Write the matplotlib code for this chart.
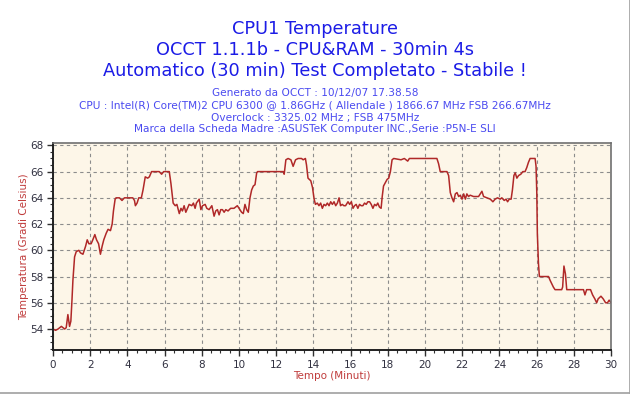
import matplotlib.pyplot as plt
from matplotlib.lines import Line2D
from matplotlib.ticker import MultipleLocator

# Temperature log (minutes, degrees C)
minutes = [
    0.00, 0.14, 0.27, 0.45, 0.63, 0.71, 0.80, 0.89, 0.96, 1.02, 1.07, 1.16,
    1.25, 1.39, 1.48, 1.61, 1.75, 1.84, 1.93, 2.05, 2.14, 2.25, 2.34, 2.45,
    2.55, 2.64, 2.73, 2.86, 2.96, 3.09, 3.18, 3.25, 3.34, 3.39, 3.57, 3.71,
    3.84, 4.29, 4.38, 4.43, 4.52, 4.61, 4.75, 4.84, 4.96, 5.09, 5.18, 5.30,
    5.71, 5.84, 5.95, 6.25, 6.34, 6.46, 6.57, 6.66, 6.79, 6.88, 6.96, 7.05,
    7.14, 7.23, 7.32, 7.46, 7.55, 7.64, 7.71, 7.86, 7.95, 8.04, 8.18, 8.27,
    8.39, 8.54, 8.66, 8.75, 8.84, 8.93, 9.02, 9.11, 9.20, 9.29, 9.41, 9.55,
    9.73, 9.91, 10.00, 10.14, 10.23, 10.32, 10.41, 10.50, 10.59, 10.68, 10.77,
    10.86, 10.95, 11.00, 12.38, 12.43, 12.52, 12.64, 12.79, 12.91, 13.04,
    13.18, 13.36, 13.45, 13.57, 13.63, 13.71, 13.86, 13.95, 14.04, 14.11,
    14.21, 14.30, 14.39, 14.48, 14.57, 14.66, 14.75, 14.84, 14.93, 15.02,
    15.11, 15.20, 15.29, 15.38, 15.46, 15.55, 15.64, 15.73, 15.86, 15.95,
    16.04, 16.13, 16.21, 16.30, 16.39, 16.48, 16.57, 16.66, 16.75, 16.84,
    16.93, 17.02, 17.11, 17.20, 17.29, 17.38, 17.46, 17.55, 17.64, 17.70,
    17.77, 17.88, 17.96, 18.05, 18.14, 18.23, 18.32, 18.71, 18.89, 18.98,
    19.07, 19.16, 20.64, 20.73, 20.82, 21.18, 21.27, 21.36, 21.45, 21.54,
    21.63, 21.72, 21.81, 21.90, 21.99, 22.08, 22.17, 22.25, 22.34, 22.43,
    22.61, 22.75, 22.88, 22.97, 23.06, 23.15, 23.33, 23.51, 23.65, 23.77,
    23.90, 24.04, 24.13, 24.26, 24.36, 24.44, 24.53, 24.63, 24.70, 24.78,
    24.85, 24.94, 25.03, 25.15, 25.26, 25.38, 25.47, 25.56, 25.65, 25.92,
    25.97, 26.01, 26.04, 26.10, 26.15, 26.64, 26.73, 26.90, 26.99, 27.35,
    27.40, 27.47, 27.55, 27.62, 28.52, 28.60, 28.69, 28.90, 29.01, 29.13,
    29.23, 29.31, 29.46, 29.58, 29.71, 29.81, 29.90, 30.00,
]
temps = [
    54.0, 53.9, 54.0, 54.2, 54.0, 54.1, 55.1, 54.2, 54.6, 56.2, 57.7, 59.5,
    59.9, 60.0, 59.8, 59.7, 60.3, 60.8, 60.5, 60.5, 60.8, 61.2, 60.8, 60.5,
    59.7, 60.3, 60.8, 61.3, 61.6, 61.5, 62.0, 63.0, 63.9, 64.0, 64.0, 63.8,
    64.0, 64.0, 63.8, 63.4, 63.6, 64.0, 64.0, 64.6, 65.6, 65.5, 65.6, 66.0,
    66.0, 65.8, 66.0, 66.0, 65.1, 63.6, 63.4, 63.5, 62.8, 63.2, 63.0, 63.4,
    62.9, 63.2, 63.5, 63.4, 63.6, 63.2, 63.6, 63.9, 63.1, 63.4, 63.5, 63.2,
    63.1, 63.4, 62.6, 63.0, 63.1, 62.7, 63.1, 63.1, 62.9, 63.1, 63.0, 63.2,
    63.2, 63.4, 63.2, 62.9, 62.8, 63.5, 63.1, 62.9, 64.0, 64.6, 64.9,
    65.0, 65.9, 66.0, 66.0, 65.8, 66.9, 67.0, 66.9, 66.4, 66.9,
    67.0, 67.0, 66.9, 67.0, 66.5, 65.5, 65.3, 64.8, 63.9, 63.5,
    63.6, 63.4, 63.6, 63.2, 63.5, 63.4, 63.6, 63.4, 63.7, 63.5,
    63.7, 63.4, 63.6, 64.0, 63.4, 63.5, 63.4, 63.4, 63.7, 63.5,
    63.7, 63.2, 63.4, 63.5, 63.2, 63.5, 63.4, 63.4, 63.6, 63.5,
    63.7, 63.7, 63.5, 63.2, 63.5, 63.4, 63.6, 63.3, 63.2, 64.1,
    64.9, 65.2, 65.4, 65.5, 66.0, 66.9, 67.0, 66.9, 67.0, 66.9,
    66.8, 67.0, 67.0, 66.6, 66.0, 66.0, 65.7, 64.4, 64.0, 63.7,
    64.3, 64.4, 64.1, 64.2, 63.9, 64.3, 63.9, 64.3, 64.1, 64.2,
    64.1, 64.1, 64.1, 64.3, 64.5, 64.1, 64.0, 63.9, 63.7, 63.9,
    64.0, 63.9, 64.0, 63.8, 63.9, 63.7, 63.9, 63.9, 64.6, 65.7,
    65.9, 65.5, 65.7, 65.8, 66.0, 66.0, 66.3, 66.7, 67.0, 67.0,
    66.4, 64.4, 61.3, 59.0, 58.0, 58.0, 57.7, 57.2, 57.0, 57.0,
    57.2, 58.8, 58.2, 57.0, 57.0, 56.6, 57.0, 57.0, 56.6, 56.3,
    56.0, 56.3, 56.5, 56.3, 56.0, 56.0, 56.2, 56.0,
]

title_lines = [
    "CPU1 Temperature",
    "OCCT 1.1.1b - CPU&RAM - 30min 4s",
    "Automatico (30 min) Test Completato - Stabile !",
]
info_lines = [
    "Generato da OCCT : 10/12/07 17.38.58",
    "CPU : Intel(R) Core(TM)2 CPU 6300 @ 1.86GHz ( Allendale ) 1866.67 MHz FSB 266.67MHz",
    "Overclock : 3325.02 MHz ; FSB 475MHz",
    "Marca della Scheda Madre :ASUSTeK Computer INC.,Serie :P5N-E SLI",
]
x_ticks = list(range(0, 31, 2))
y_ticks = list(range(54, 69, 2))

W, H = 630, 397
fig = plt.figure(figsize=(W / 100, H / 100), dpi=100)
fig.patch.set_facecolor("white")

ax = fig.add_axes([53 / W, (H - 350) / H, (611 - 53) / W, (350 - 143) / H])
ax.set_facecolor("#fdf6e8")
ax.plot(minutes, temps, color="#b02828", lw=1.1)

ax.set_xlim(0, 30)
ax.set_ylim(52.4, 68.18)
ax.set_xticks(x_ticks)
ax.set_yticks(y_ticks)
ax.xaxis.set_minor_locator(MultipleLocator(0.5))
ax.yaxis.set_minor_locator(MultipleLocator(0.5))
ax.tick_params(which="major", length=4, width=1, color="#303030",
               labelsize=7.5, labelcolor="#303040", pad=3)
ax.tick_params(which="minor", length=2, width=0.8, color="#303030")
ax.grid(True, which="major", color="#8c8c8c", linestyle=(0, (3, 3)), lw=0.8)

for side in ("left", "bottom"):
    ax.spines[side].set_color("#202020")
    ax.spines[side].set_linewidth(1.4)
for side in ("top", "right"):
    ax.spines[side].set_color("#707070")
    ax.spines[side].set_linewidth(1.2)

ax.set_xlabel("Tempo (Minuti)", color="#c03c3c", fontsize=7.5, labelpad=1)
ax.set_ylabel("Temperatura (Gradi Celsius)", color="#c03c3c", fontsize=7.5,
              labelpad=1)

# titles
for y, line in zip([29, 50, 71], title_lines):
    fig.text(0.5, 1 - y / H, line, ha="center", va="center",
             color="#1c1ce6", fontsize=12.8)
for y, line in zip([93, 105, 117.5, 129.5], info_lines):
    fig.text(0.5, 1 - y / H, line, ha="center", va="center",
             color="#4a4af0", fontsize=7.6)

# grey window edge on the right and bottom
fig.add_artist(Line2D([629.5 / W, 629.5 / W], [4 / H, 1], color="#a0a0a0", lw=1.2))
fig.add_artist(Line2D([0, 629.5 / W], [4 / H, 4 / H], color="#a0a0a0", lw=1.2))

fig.savefig("out.png", dpi=100, facecolor="white")
